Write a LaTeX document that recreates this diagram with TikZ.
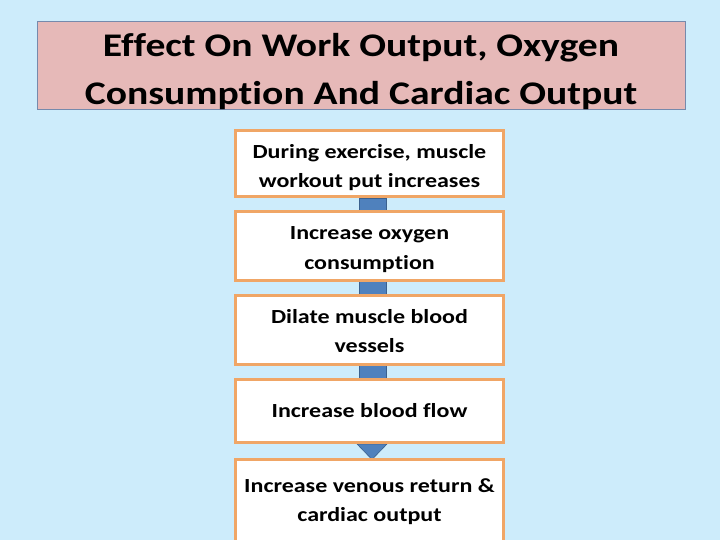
\documentclass[tikz,border=0pt]{standalone}
\usepackage{fontspec}
\setmainfont{Carlito}[Ligatures=NoCommon,FakeStretch=1.2]
\usetikzlibrary{positioning,calc,backgrounds}
\definecolor{bgblue}{RGB}{205,236,251}
\definecolor{titlepink}{RGB}{230,185,184}
\definecolor{titleline}{RGB}{118,138,172}
\definecolor{boxorange}{RGB}{240,166,102}
\definecolor{arrowblue}{RGB}{79,129,189}
\tikzset{
  titlebox/.style={draw=titleline,line width=1pt,fill=titlepink,align=center,
    minimum width=648pt,minimum height=88pt,inner sep=0pt,
    font=\fontsize{33}{48}\selectfont\bfseries},
  stepbox/.style={draw=boxorange,line width=3pt,fill=white,align=center,
    minimum width=268pt,inner sep=0pt,
    font=\fontsize{20}{29}\selectfont\bfseries},
  % place the text inside the box: height and depth of the text
  textat/.style 2 args={text height=#1,text depth=#2},
  arrowbody/.style={fill=arrowblue,draw=arrowblue!75!black,line width=0.6pt}
}

\begin{document}
\begin{tikzpicture}[x=1pt,y=-1pt]
  \useasboundingbox (0,0) rectangle (720,540);
  \clip (0,0) rectangle (720,540);
  % draw title
  \node[titlebox,textat={83pt}{5pt}] (title) at (361,66) {Effect On Work Output, Oxygen\\Consumption And Cardiac Output};
  % draw steps
  \node[stepbox,minimum height=66pt,textat={57pt}{9pt}] (b1) at (369.5,163.5) {During exercise, muscle\\workout put increases};
  \node[stepbox,minimum height=69pt,textat={57.5pt}{11.5pt}] (b2) at (369.5,246) {Increase oxygen\\consumption};
  \node[stepbox,minimum height=69pt,textat={56.5pt}{12.5pt}] (b3) at (369.5,330) {Dilate muscle blood\\vessels};
  \node[stepbox,minimum height=63pt] (b4) at (369.5,411) {Increase blood flow};
  \node[stepbox,minimum height=86pt,textat={62pt}{24pt}] (b5) at (369.5,502) {Increase venous return \&\\cardiac output};
  % draw background and arrow behind the boxes
  \begin{pgfonlayer}{background}
    \fill[bgblue] (0,0) rectangle (720,540);
    \filldraw[arrowbody] ($(b1.south)+(-10.5,0)$) rectangle ($(b4.south)+(16.5,0)$);
    \filldraw[arrowbody] ($(b4.south)+(-12.5,0)$) -- ($(b4.south)+(17.5,0)$) -- ($(b4.south)+(2.5,15.5)$) -- cycle;
  \end{pgfonlayer}
\end{tikzpicture}
\end{document}
